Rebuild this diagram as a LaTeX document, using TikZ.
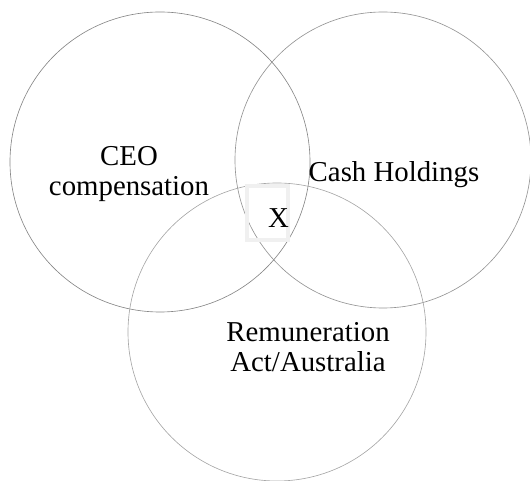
\documentclass[tikz,border=0pt]{standalone}
\usepackage{fontspec}
\setmainfont{Liberation Serif}
\usepackage{tikz}
\usetikzlibrary{positioning}

\tikzset{
    setlabel/.style={align=center, font=\fontsize{41}{43}\selectfont, inner sep=0pt},
}

\begin{document}
\begin{tikzpicture}
    \useasboundingbox (0,0) rectangle (26.5,24.05);
    % Sets
    \draw[gray!95, line width=0.9pt] (8.0,15.95) circle (7.5); % CEO compensation
    \draw[gray!85, line width=0.9pt] (19.15,16.05) circle (7.4); % Cash holdings
    \draw[gray!70, line width=0.9pt] (13.85,7.45) circle (7.45); % Remuneration act
    
    % Overlap marker
    \draw[gray!12, line width=5.5pt] (12.35,12.05) rectangle (14.4,14.75);
    \node[setlabel] (x) at (13.93,13.15) {X};
    
    \node[setlabel] (ceo) at (6.45,15.35) {CEO\\compensation};
    \node[setlabel] (cash) at (19.7,15.3) {Cash Holdings};
    \node[setlabel] (rem) at (15.4,6.7) {Remuneration\\Act/Australia};
\end{tikzpicture}
\end{document}
